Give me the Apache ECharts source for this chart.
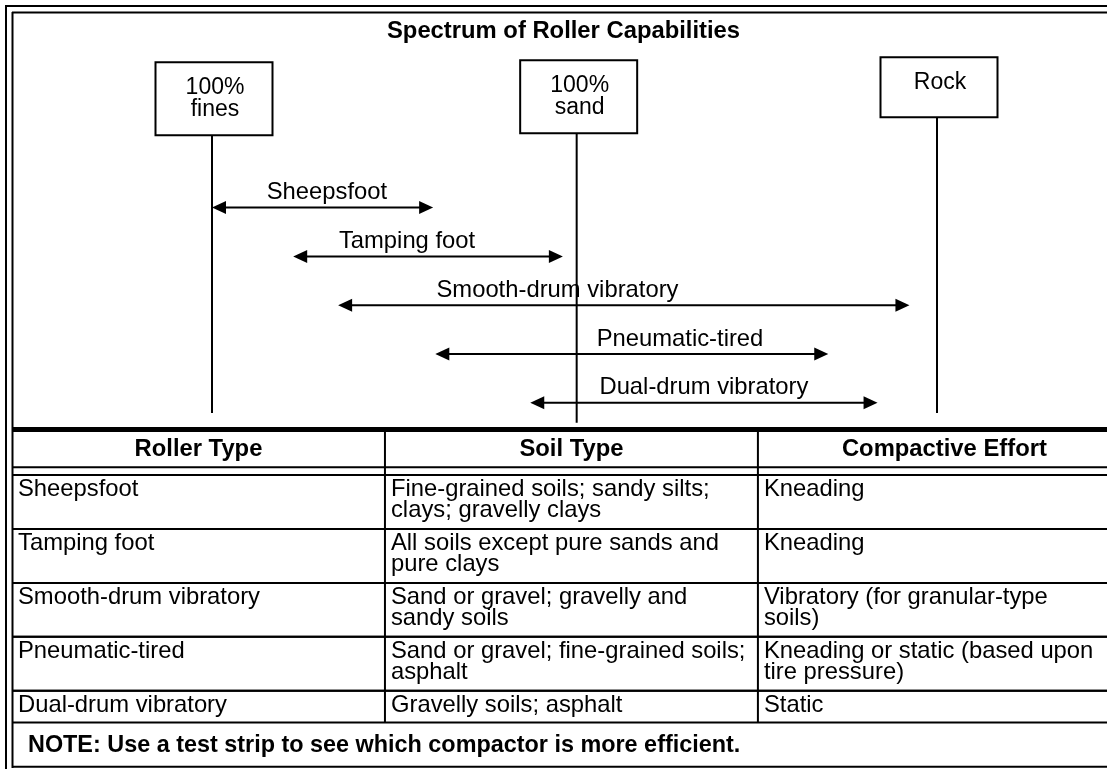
<!DOCTYPE html>
<html>
<head>
<meta charset="utf-8">
<script src="https://cdn.jsdelivr.net/npm/echarts@6/dist/echarts.min.js"></script>
<style>
html,body{margin:0;padding:0;background:#fff;}
#main{width:1107px;height:769px;}
</style>
</head>
<body>
<div id="main"></div>
<script>
// ---------------- DATA ----------------
const chartTitle = 'Spectrum of Roller Capabilities';
const anchorLabels = ['100%\nfines', '100%\nsand', 'Rock'];
const anchorPos = [0, 50.3, 100];               // position on the fines → rock spectrum
const rollerTypes = ['Sheepsfoot', 'Tamping foot', 'Smooth-drum vibratory', 'Pneumatic-tired', 'Dual-drum vibratory'];
const rangeStart = [0, 11.2, 17.4, 30.8, 43.9];  // spectrum start of each roller's range
const rangeEnd = [30.5, 48.4, 96.2, 85.0, 91.8]; // spectrum end of each roller's range
const tableHeaders = ['Roller Type', 'Soil Type', 'Compactive Effort'];
const soilTypes = [
  'Fine-grained soils; sandy silts;\nclays; gravelly clays',
  'All soils except pure sands and\npure clays',
  'Sand or gravel; gravelly and\nsandy soils',
  'Sand or gravel; fine-grained soils;\nasphalt',
  'Gravelly soils; asphalt'
];
const compactiveEffort = [
  'Kneading',
  'Kneading',
  'Vibratory (for granular-type\nsoils)',
  'Kneading or static (based upon\ntire pressure)',
  'Static'
];
const noteText = 'NOTE: Use a test strip to see which compactor is more efficient.';

// ---------------- LAYOUT / STYLE ----------------
const FONT = '"Liberation Sans", Arial, Helvetica, sans-serif';
const FS = 23.8;
const INK = '#000';
const LABEL_SHIFT = [0.6, -2.9, -9.15, 6.65, 0];   // label offset from arrow midpoint (spectrum units)
const LINE_END = [4.21, 4.41, 4.21];               // where the anchor lines stop (row units)
const BOX_TOP = [-2.98, -3.02, -3.08];             // box top (row units)
const U = 22;                                       // px per table text-line unit
const COL_VISIBLE = 2.936;                          // the right column runs past the picture edge

// table row extents in line units
const tableRows = [];
let cursor = 0;
tableRows.push({kind: 'header', cells: tableHeaders, y0: cursor, y1: cursor + 1.6});
cursor += 1.6 + 0.36;
rollerTypes.forEach((r, i) => {
  const cells = [r, soilTypes[i], compactiveEffort[i]];
  const n = Math.max(...cells.map(c => c.split('\n').length));
  tableRows.push({kind: 'body', cells, y0: cursor, y1: cursor + n + 0.45});
  cursor += n + 0.45;
});
tableRows.push({kind: 'note', cells: [noteText], y0: cursor, y1: cursor + 2.05});
cursor += 2.05;
const tableTotal = cursor;

const chart = echarts.init(document.getElementById('main'), null, {renderer: 'canvas'});

function seg(x1, y1, x2, y2, w) {
  return {type: 'line', shape: {x1, y1, x2, y2}, style: {stroke: INK, lineWidth: w || 2}, silent: true};
}

const option = {
  animation: false,
  backgroundColor: '#fff',
  graphic: [
    seg(6, 5, 6, 769, 2),
    seg(12.5, 12, 12.5, 768, 2),
    seg(5, 6, 1107, 6, 2),
    seg(12, 12.5, 1107, 12.5, 2),
    {type: 'text', x: 563.5, y: 31.7, silent: true,
     style: {text: chartTitle, align: 'center', verticalAlign: 'middle', fontSize: FS, fontWeight: 'bold', fontFamily: FONT, fill: INK}}
  ],
  grid: [
    {left: 212, top: 61.2, width: 725, height: 366},
    {left: 12, top: 432, right: 0, height: tableTotal * U}
  ],
  xAxis: [
    {type: 'value', gridIndex: 0, min: 0, max: 100, show: false},
    {type: 'value', gridIndex: 1, min: 0, max: COL_VISIBLE, show: false}
  ],
  yAxis: [
    {type: 'value', gridIndex: 0, min: -3, max: 4.5, inverse: true, show: false},
    {type: 'value', gridIndex: 1, min: 0, max: tableTotal, inverse: true, show: false}
  ],
  series: [
    // soil anchors: boxes with vertical reference lines
    {
      type: 'custom', xAxisIndex: 0, yAxisIndex: 0, silent: true,
      data: anchorPos.map((p, i) => [p, i]),
      renderItem(params, api) {
        const i = api.value(1);
        const x = api.coord([api.value(0), 0])[0];
        const lines = anchorLabels[i].split('\n').length;
        const yTop = api.coord([0, BOX_TOP[i]])[1];
        const h = lines > 1 ? 73 : 60;
        const yEnd = api.coord([0, LINE_END[i]])[1];
        const bx = x + 2;
        return {type: 'group', children: [
          seg(x, yTop + h, x, yEnd, 2),
          {type: 'rect', shape: {x: bx - 58.5, y: yTop, width: 117, height: h},
           style: {fill: '#fff', stroke: INK, lineWidth: 2}},
          {type: 'text', style: {text: anchorLabels[i], x: bx + 1, y: yTop + 14, align: 'center',
            verticalAlign: 'top', fontSize: 23, lineHeight: 22, fontFamily: FONT, fill: INK}}
        ]};
      }
    },
    // roller ranges: double-headed arrows
    {
      type: 'custom', xAxisIndex: 0, yAxisIndex: 0, silent: true,
      data: rollerTypes.map((r, i) => [rangeStart[i], rangeEnd[i], i]),
      renderItem(params, api) {
        const i = api.value(2);
        const p1 = api.coord([api.value(0), i]);
        const p2 = api.coord([api.value(1), i]);
        const y = p1[1];
        const L = 14, W = 6.5;
        const mid = (api.value(0) + api.value(1)) / 2 + LABEL_SHIFT[i];
        const lx = api.coord([mid, i])[0];
        return {type: 'group', children: [
          seg(p1[0] + 4, y, p2[0] - 4, y, 2),
          {type: 'polygon', shape: {points: [[p1[0], y], [p1[0] + L, y - W], [p1[0] + L, y + W]]}, style: {fill: INK}},
          {type: 'polygon', shape: {points: [[p2[0], y], [p2[0] - L, y - W], [p2[0] - L, y + W]]}, style: {fill: INK}},
          {type: 'text', style: {text: rollerTypes[i], x: lx, y: y - 15, align: 'center', verticalAlign: 'middle',
            fontSize: FS, fontFamily: FONT, fill: INK}}
        ]};
      }
    },
    // table
    {
      type: 'custom', xAxisIndex: 1, yAxisIndex: 1, silent: true,
      data: tableRows.map((r, k) => [k, r.y0, r.y1]),
      renderItem(params, api) {
        const row = tableRows[api.value(0)];
        const edges = [0, 1, 2, 3].map(c => api.coord([c, 0])[0]);
        const yT = api.coord([0, api.value(1)])[1];
        const yB = api.coord([0, api.value(2)])[1];
        const ch = [];
        if (row.kind === 'header') {
          ch.push(seg(edges[0], yT - 2.5, edges[3], yT - 2.5, 5));
          ch.push(seg(edges[0], yB, edges[3], yB, 2));
          const yNext = yB + 0.36 * U;
          ch.push(seg(edges[1], yT, edges[1], yNext, 2));
          ch.push(seg(edges[2], yT, edges[2], yNext, 2));
          row.cells.forEach((t, c) => {
            ch.push({type: 'text', style: {text: t, x: (edges[c] + edges[c + 1]) / 2, y: (yT + yB) / 2,
              align: 'center', verticalAlign: 'middle', fontSize: FS, fontWeight: 'bold', fontFamily: FONT, fill: INK}});
          });
        } else if (row.kind === 'body') {
          ch.push(seg(edges[0], yT, edges[3], yT, 2));
          ch.push(seg(edges[0], yB, edges[3], yB, 2));
          ch.push(seg(edges[1], yT, edges[1], yB, 2));
          ch.push(seg(edges[2], yT, edges[2], yB, 2));
          row.cells.forEach((t, c) => {
            ch.push({type: 'text', style: {text: t, x: edges[c] + 6, y: yT + 4,
              align: 'left', verticalAlign: 'top', fontSize: FS, lineHeight: 21, fontFamily: FONT, fill: INK}});
          });
        } else {
          ch.push(seg(edges[0], yB - 1, edges[3], yB - 1, 2));
          ch.push({type: 'text', style: {text: row.cells[0], x: edges[0] + 16, y: (yT + yB) / 2,
            align: 'left', verticalAlign: 'middle', fontSize: 23.4, fontWeight: 'bold', fontFamily: FONT, fill: INK}});
        }
        return {type: 'group', children: ch};
      }
    }
  ]
};
chart.setOption(option);
</script>
</body>
</html>
